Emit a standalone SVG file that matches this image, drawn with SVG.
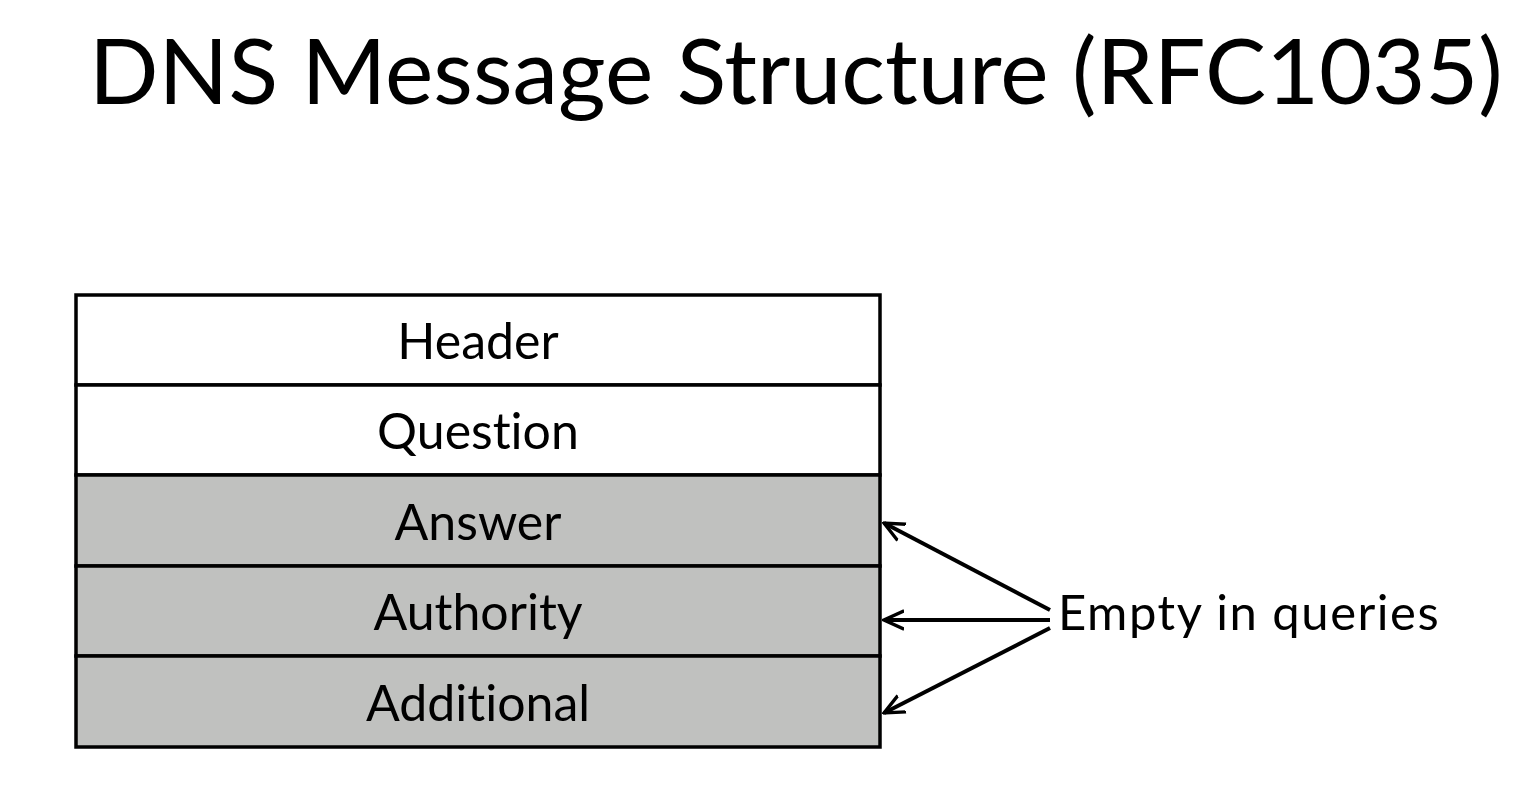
<svg xmlns="http://www.w3.org/2000/svg" width="1523" height="795" viewBox="0 0 1523 795">
<style>
.t{font-family:Lato,"Open Sans","Liberation Sans",sans-serif;fill:#000;font-variant-ligatures:none;font-feature-settings:"liga" 0}
.row{stroke:#000;stroke-width:3.5}
.w{fill:#fff}
.g{fill:#c0c1bf}
.lbl{font-size:50px;text-anchor:middle}
.c{stroke:#000;stroke-width:4;fill:none;marker-end:url(#ah)}
</style>
<defs>
<marker id="ah" viewBox="0 0 12 12" refX="11" refY="6" markerWidth="5.5" markerHeight="5.5" orient="auto" markerUnits="strokeWidth">
<path d="M0,1 L11,6 L0,11" fill="none" stroke="#000" stroke-width="1.8"/>
</marker>
</defs>
<rect width="1523" height="795" fill="#fff"/>
<text class="t" x="89" y="104" font-size="91.5">DNS Message Structure (RFC1035)</text>
<g id="header"><rect class="row w" x="76" y="295" width="804" height="90"/><text class="t lbl" x="478" y="359">Header</text></g>
<g id="question"><rect class="row w" x="76" y="385" width="804" height="90"/><text class="t lbl" x="478" y="449">Question</text></g>
<g id="answer"><rect class="row g" x="76" y="475" width="804" height="91"/><text class="t lbl" x="478" y="540">Answer</text></g>
<g id="authority"><rect class="row g" x="76" y="566" width="804" height="90"/><text class="t lbl" x="478" y="630">Authority</text></g>
<g id="additional"><rect class="row g" x="76" y="656" width="804" height="91"/><text class="t lbl" x="478" y="721">Additional</text></g>
<g id="note"><text class="t" x="1058" y="630" font-size="49" letter-spacing="1.5">Empty in queries</text></g>
<g id="connectors">
<line class="c" x1="1050" y1="610" x2="884" y2="523"/>
<line class="c" x1="1050" y1="620" x2="884" y2="620"/>
<line class="c" x1="1050" y1="628" x2="884" y2="713"/>
</g>
</svg>
